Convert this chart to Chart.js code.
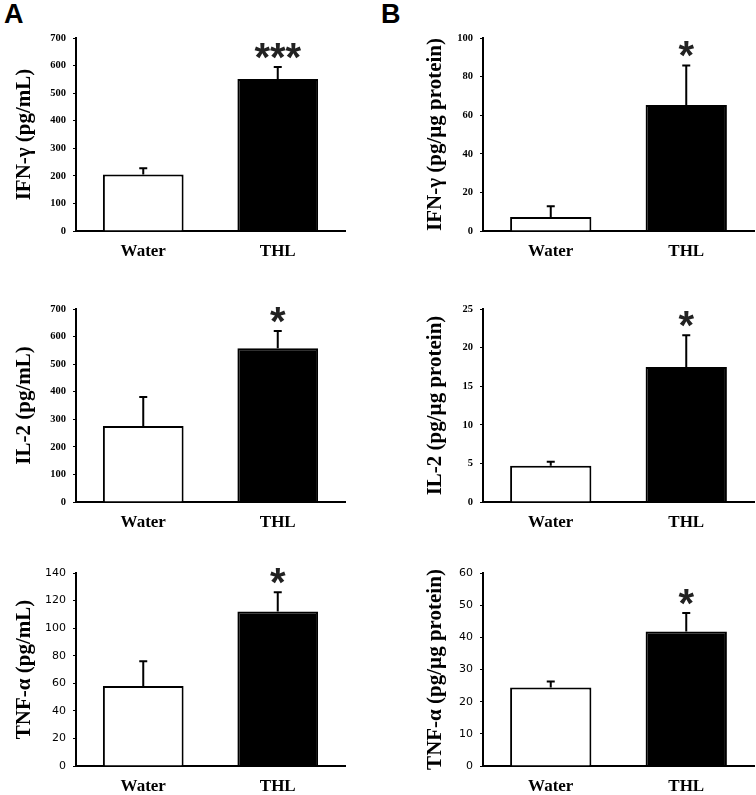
<!DOCTYPE html>
<html>
<head>
<meta charset="utf-8">
<script src="https://cdn.jsdelivr.net/npm/chart.js@4/dist/chart.umd.min.js"></script>
<style>
  body { margin: 0; background: #fff; width: 756px; height: 795px; overflow: hidden; position: relative; }
  canvas { position: absolute; }
  .letter { position: absolute; font: bold 27px "Liberation Sans", Arial, sans-serif; line-height: 1; color: #000; }
</style>
</head>
<body>
<div class="letter" style="left:4px; top:1px;">A</div>
<div class="letter" style="left:381px; top:1px;">B</div>
<canvas id="a1" width="378" height="272" style="left:0; top:0;"></canvas>
<canvas id="b1" width="378" height="272" style="left:378px; top:0;"></canvas>
<canvas id="a2" width="378" height="272" style="left:0; top:271px;"></canvas>
<canvas id="b2" width="378" height="272" style="left:378px; top:271px;"></canvas>
<canvas id="a3" width="378" height="272" style="left:0; top:535px;"></canvas>
<canvas id="b3" width="378" height="272" style="left:378px; top:535px;"></canvas>
<script>
// groups
const categories = ['Water', 'THL'];

// A: serum (pg/mL)
const ifnSerum = [205, 551];
const ifnSerumErr = [23, 44];
const il2Serum = [276, 558];
const il2SerumErr = [105, 62];
const tnfSerum = [58, 112];
const tnfSerumErr = [18, 14];

// B: tissue (pg/µg protein)
const ifnTissue = [7.3, 65.3];
const ifnTissueErr = [5.5, 20.5];
const il2Tissue = [4.7, 17.5];
const il2TissueErr = [0.5, 4.1];
const tnfTissue = [24.4, 41.8];
const tnfTissueErr = [1.9, 5.8];

// significance marks
const ifnSerumStars = ['', '***'];
const ifnTissueStars = ['', '*'];
const il2SerumStars = ['', '*'];
const il2TissueStars = ['', '*'];
const tnfSerumStars = ['', '*'];
const tnfTissueStars = ['', '*'];

// y axis ranges [max, step]
const ifnSerumAxis = [700, 100];
const ifnTissueAxis = [100, 20];
const il2SerumAxis = [700, 100];
const il2TissueAxis = [25, 5];
const tnfSerumAxis = [140, 20];
const tnfTissueAxis = [60, 10];

const serif = '"Liberation Serif", "Times New Roman", serif';
const sans = '"DejaVu Sans", Verdana, sans-serif';

const errorBars = {
  id: 'errorBars',
  afterDatasetsDraw(chart, args, opts) {
    const ctx = chart.ctx;
    const y = chart.scales.y;
    const meta = chart.getDatasetMeta(0);
    ctx.save();
    ctx.strokeStyle = '#000';
    ctx.lineWidth = 2;
    opts.values.forEach((v, i) => {
      const x = meta.data[i].x;
      const yBar = y.getPixelForValue(v);
      const yTop = y.getPixelForValue(v + opts.errors[i]);
      ctx.beginPath();
      ctx.moveTo(x, yBar);
      ctx.lineTo(x, yTop);
      ctx.moveTo(x - 4, yTop);
      ctx.lineTo(x + 4, yTop);
      ctx.stroke();
      const s = opts.stars[i];
      if (s) {
        ctx.fillStyle = '#222';
        ctx.font = 'bold 40px "Liberation Sans", Arial, sans-serif';
        ctx.textAlign = 'center';
        ctx.textBaseline = 'alphabetic';
        ctx.fillText(s, x, yTop - 14 + 18);
      }
    });
    ctx.restore();
  }
};

function panel(id, title, values, errors, stars, axis, right, titlePad, tickFont) {
  new Chart(document.getElementById(id), {
    type: 'bar',
    data: {
      labels: categories,
      datasets: [{
        data: values,
        backgroundColor: ['#fff', '#000'],
        borderColor: '#000',
        borderWidth: 2,
        borderSkipped: 'bottom',
        barPercentage: 0.6,
        categoryPercentage: 1
      }]
    },
    options: {
      responsive: false,
      animation: false,
      devicePixelRatio: 1,
      layout: { padding: { top: 38, right: right, left: 0, bottom: 10 } },
      plugins: {
        legend: { display: false },
        tooltip: { enabled: false },
        errorBars: { values: values, errors: errors, stars: stars }
      },
      scales: {
        x: {
          grid: { display: false },
          border: { display: true, color: '#000', width: 2 },
          ticks: { color: '#000', padding: 2, font: { family: serif, size: 17, weight: 'bold' } },
          afterFit(s) { s.height = 31; }
        },
        y: {
          min: 0,
          max: axis[0],
          grid: { drawOnChartArea: false, drawTicks: true, tickLength: 3, color: '#000', lineWidth: 1 },
          border: { display: true, color: '#000', width: 2 },
          ticks: { stepSize: axis[1], color: '#000', padding: 7, font: tickFont },
          title: {
            display: true,
            text: title,
            color: '#000',
            padding: { top: titlePad, bottom: 0 },
            font: { family: serif, size: 21, weight: 'bold' }
          },
          afterFit(s) { s.width = right > 10 ? 76 : 105; }
        }
      }
    },
    plugins: [errorBars]
  });
}

const serifTicks = { family: serif, size: 10.5, weight: 'bold' };
const sansTicks = { family: sans, size: 11 };

panel('a1', 'IFN-γ (pg/mL)', ifnSerum, ifnSerumErr, ifnSerumStars, ifnSerumAxis, 33, 12, serifTicks);
panel('b1', 'IFN-γ (pg/µg protein)', ifnTissue, ifnTissueErr, ifnTissueStars, ifnTissueAxis, 2, 45, serifTicks);
panel('a2', 'IL-2 (pg/mL)', il2Serum, il2SerumErr, il2SerumStars, il2SerumAxis, 33, 12, serifTicks);
panel('b2', 'IL-2 (pg/µg protein)', il2Tissue, il2TissueErr, il2TissueStars, il2TissueAxis, 2, 45, serifTicks);
panel('a3', 'TNF-α (pg/mL)', tnfSerum, tnfSerumErr, tnfSerumStars, tnfSerumAxis, 33, 12, sansTicks);
panel('b3', 'TNF-α (pg/µg protein)', tnfTissue, tnfTissueErr, tnfTissueStars, tnfTissueAxis, 2, 45, sansTicks);
</script>
</body>
</html>
